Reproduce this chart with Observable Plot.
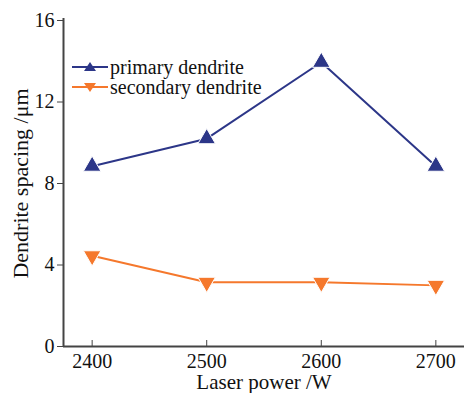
<!DOCTYPE html>
<html><head><meta charset="utf-8">
<script src="https://cdn.jsdelivr.net/npm/d3@7"></script>
<script src="https://cdn.jsdelivr.net/npm/@observablehq/plot@0.6"></script>
<style>
body{margin:0;background:#fff;}
#wrap{position:relative;width:464px;height:393px;font-family:"Liberation Serif","DejaVu Serif",serif;overflow:hidden;}
.leg{position:absolute;left:72px;font-size:20px;color:#111;display:flex;align-items:center;line-height:20px;height:20px;}
.leg svg{margin-right:2px;}
</style></head>
<body><div id="wrap"></div>
<script>
const power = [2400, 2500, 2600, 2700];
const primary = [8.85, 10.2, 13.95, 8.85];
const secondary = [4.45, 3.15, 3.15, 3.0];
const seriesNames = ["primary dendrite", "secondary dendrite"];
const colors = ["#2c3688", "#f5782c"];
const yTicks = [0, 4, 8, 12, 16];
const xTicks = [2400, 2500, 2600, 2700];

const rows = [];
power.forEach((p, i) => {
  rows.push({power: p, value: primary[i], series: seriesNames[0]});
  rows.push({power: p, value: secondary[i], series: seriesNames[1]});
});
const prim = rows.filter(d => d.series === seriesNames[0]);
const sec = rows.filter(d => d.series === seriesNames[1]);

const axisColor = "#444";
const chart = Plot.plot({
  width: 464, height: 393,
  marginLeft: 63, marginRight: 0, marginTop: 20, marginBottom: 47,
  style: {fontFamily: "'Liberation Serif','DejaVu Serif',serif", fontSize: "20px", color: "#111", background: "#fff", overflow: "hidden"},
  x: {domain: [2375, 2725], ticks: xTicks, tickFormat: d => String(d), label: null},
  y: {domain: [0, 16], ticks: yTicks, label: null},
  marks: [
    Plot.axisY({ticks: yTicks, tickSize: 6, tickPadding: 3, stroke: axisColor, fontSize: 20, label: null}),
    Plot.axisX({ticks: xTicks, tickSize: -6, tickPadding: 13, stroke: axisColor, fontSize: 20, label: null, tickFormat: d => String(d)}),
    Plot.ruleX([2375], {y1: 0, y2: 16.1, stroke: axisColor, strokeWidth: 2}),
    Plot.ruleY([0], {stroke: axisColor, strokeWidth: 2}),
    Plot.line(prim, {x: "power", y: "value", stroke: colors[0], strokeWidth: 2}),
    Plot.line(sec, {x: "power", y: "value", stroke: colors[1], strokeWidth: 2}),
    Plot.dot(prim, {x: "power", y: "value", symbol: "triangle", r: 6.5, fill: colors[0], stroke: "#fff", strokeWidth: 1}),
    Plot.dot(sec, {x: "power", y: "value", symbol: "triangle", rotate: 180, r: 6.5, fill: colors[1], stroke: "#fff", strokeWidth: 1}),
    Plot.text(["Laser power /W"], {frameAnchor: "bottom", dy: 42, fontSize: 21, fill: "#111"}),
    Plot.text(["Dendrite spacing /μm"], {frameAnchor: "left", textAnchor: "middle", dx: -43, rotate: -90, fontSize: 22, fill: "#111"})
  ]
});
const wrap = document.getElementById("wrap");
wrap.appendChild(chart);

function legendItem(name, color, down, top) {
  const div = document.createElement("div");
  div.className = "leg";
  div.style.top = top + "px";
  const tri = down ? "10,13 4,4 16,4" : "10,3 4,12 16,12";
  div.innerHTML = `<svg width="36" height="16" viewBox="0 0 36 16"><line x1="0" x2="36" y1="8" y2="8" stroke="${color}" stroke-width="2"/><polygon transform="translate(8,0)" points="${tri}" fill="${color}"/></svg><span>${name}</span>`;
  wrap.appendChild(div);
}
legendItem(seriesNames[0], colors[0], false, 57);
legendItem(seriesNames[1], colors[1], true, 77);
</script></body></html>
